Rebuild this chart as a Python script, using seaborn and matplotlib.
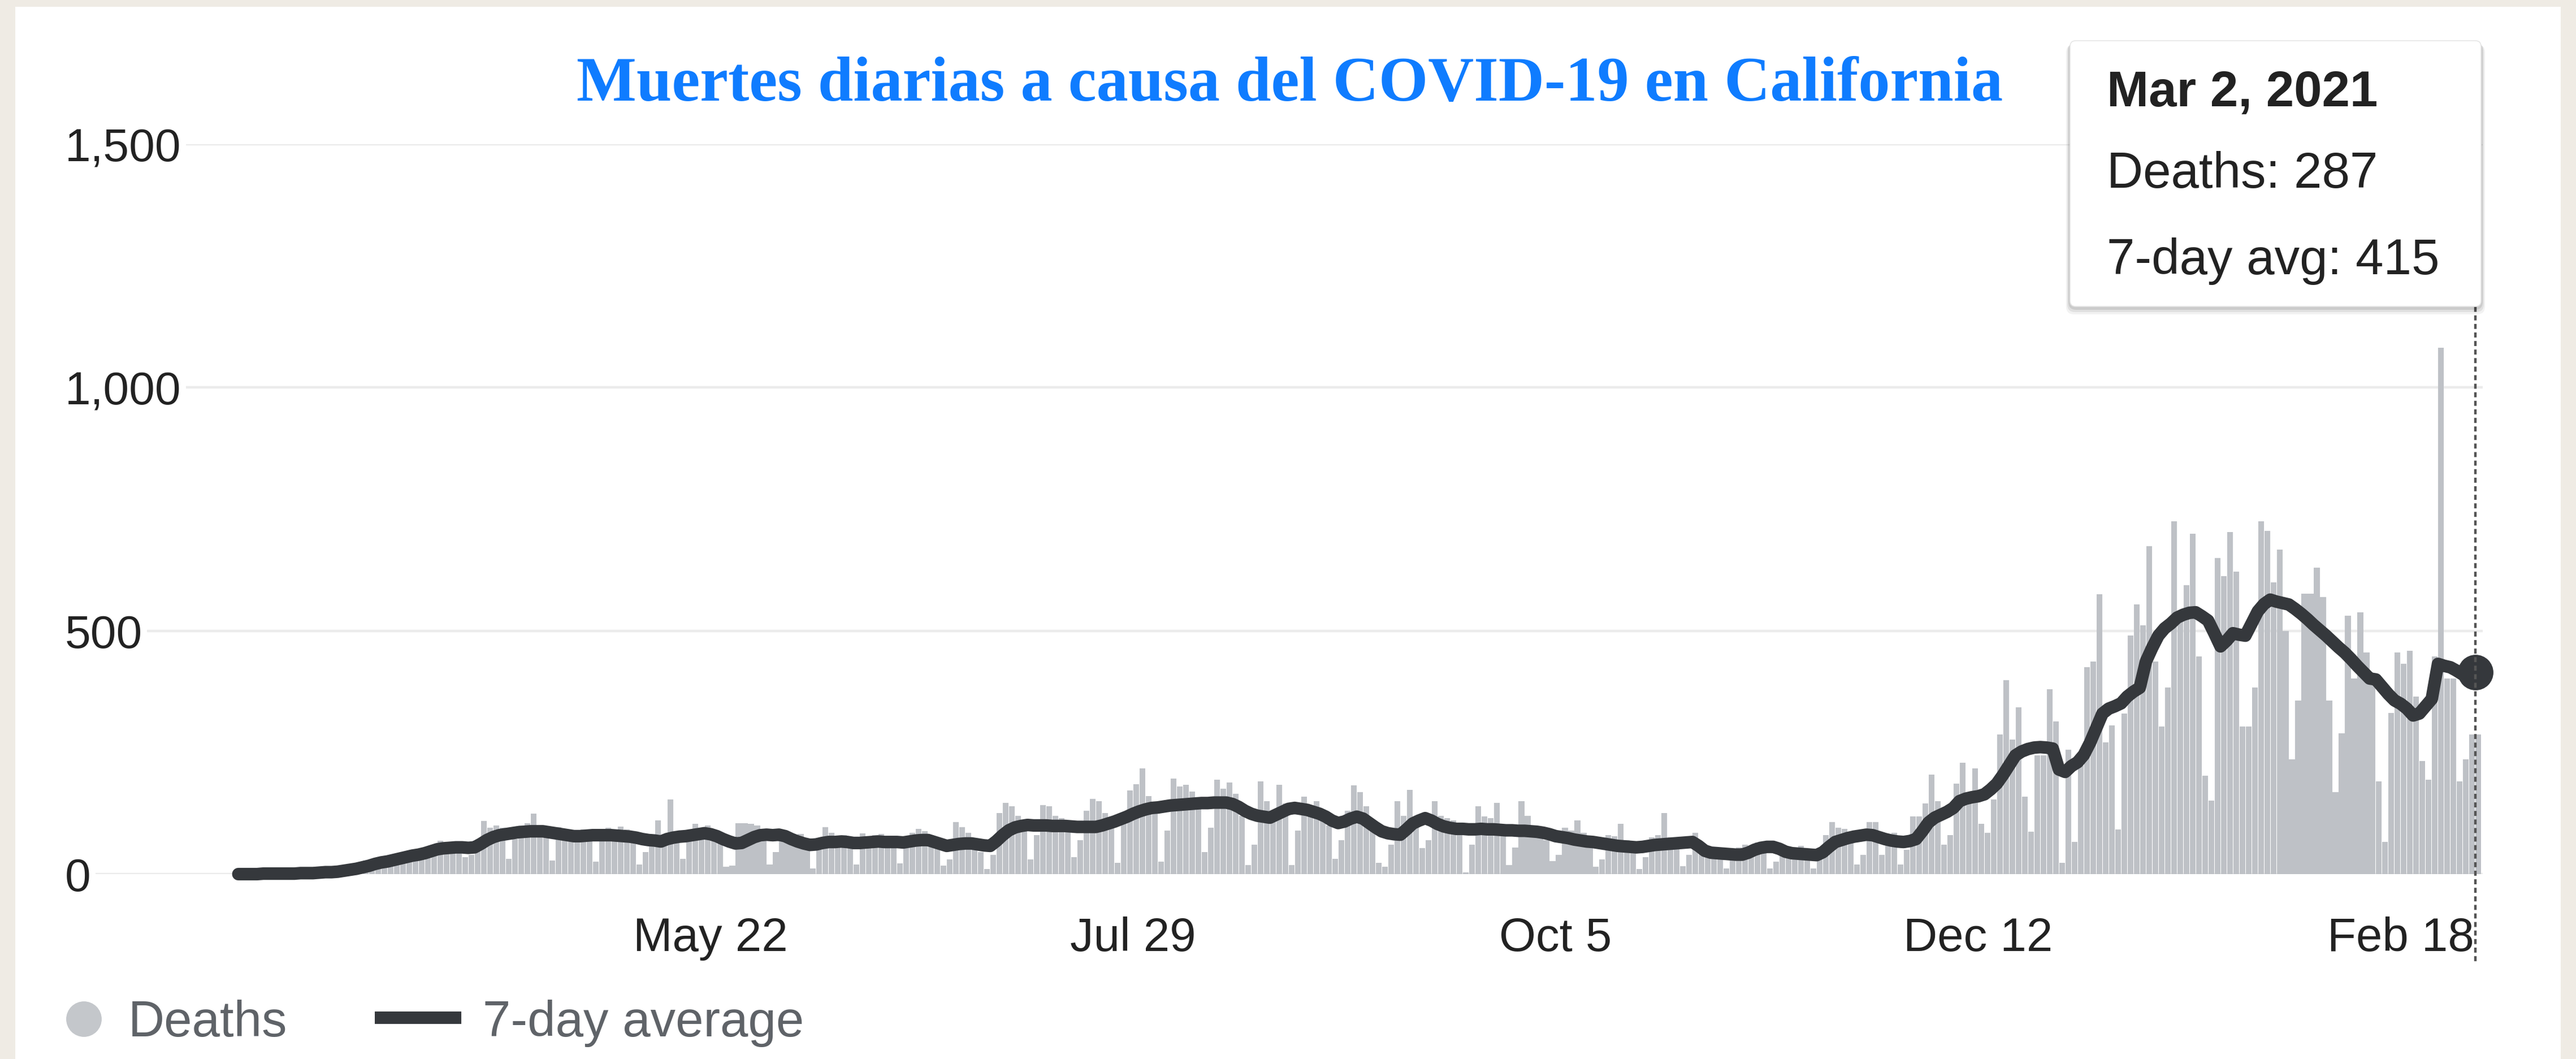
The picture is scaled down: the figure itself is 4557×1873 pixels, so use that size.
import numpy as np
import pandas as pd
import matplotlib
matplotlib.use('Agg')
import matplotlib.pyplot as plt
import seaborn as sns
from matplotlib.patches import FancyBboxPatch, Rectangle
from matplotlib.lines import Line2D

sns.set_style('white')
plt.rcParams['font.family'] = ['Liberation Sans', 'DejaVu Sans']

# Daily deaths, one list per month (first day: Mar 7, 2020)
deaths_2020_03 = [0, 0, 1, 0, 1, 1, 1, 2, 1, 2, 3, 4, 5, 6, 7, 5, 10, 15, 18, 24, 28, 30, 22, 32, 38]
deaths_2020_04 = [40, 42, 45, 48, 30, 45, 60, 68, 62, 58, 55, 35, 40, 65, 109, 95, 100, 95, 31, 72,
                  100, 105, 124, 98, 90, 28, 97, 85, 90, 88]
deaths_2020_05 = [92, 78, 25, 70, 95, 90, 98, 92, 80, 20, 45, 80, 110, 78, 153, 85, 31, 70, 103, 95,
                  100, 90, 75, 15, 18, 105, 105, 103, 100, 85, 20]
deaths_2020_06 = [45, 88, 80, 75, 82, 60, 12, 50, 97, 85, 78, 80, 65, 20, 84, 70, 80, 82, 75, 70,
                  22, 55, 85, 93, 88, 80, 65, 18, 30, 107]
deaths_2020_07 = [97, 85, 70, 45, 10, 40, 125, 146, 140, 120, 110, 30, 80, 142, 140, 120, 115, 105, 35, 70,
                  130, 155, 150, 125, 110, 23, 110, 172, 185, 217, 160]
deaths_2020_08 = [140, 25, 90, 196, 180, 184, 170, 140, 45, 95, 194, 175, 188, 165, 120, 19, 60, 190, 150, 130,
                  184, 145, 19, 90, 159, 140, 150, 130, 100, 31, 70]
deaths_2020_09 = [130, 182, 168, 140, 95, 23, 15, 60, 150, 120, 173, 110, 54, 70, 150, 120, 115, 110, 85, 3,
                  60, 140, 118, 115, 146, 90, 19, 55, 150, 120]
deaths_2020_10 = [100, 95, 70, 27, 40, 95, 90, 110, 85, 60, 15, 30, 80, 78, 103, 70, 55, 10, 35, 75,
                  80, 126, 75, 60, 16, 40, 85, 55, 35, 50, 45]
deaths_2020_11 = [12, 30, 55, 60, 58, 65, 50, 12, 25, 60, 50, 55, 58, 45, 12, 30, 80, 107, 95, 93,
                  75, 20, 40, 107, 107, 40, 80, 85, 20, 50]
deaths_2020_12 = [118, 118, 145, 205, 150, 60, 80, 186, 229, 160, 217, 103, 85, 153, 287, 398, 276, 343, 159, 87,
                  244, 244, 380, 314, 23, 256, 66, 223, 425, 437, 575]
deaths_2021_01 = [271, 305, 92, 330, 490, 554, 511, 674, 437, 303, 383, 725, 520, 594, 700, 447, 202, 151, 649, 612,
                  703, 622, 303, 303, 383, 725, 705, 599, 667, 500, 236]
deaths_2021_02 = [357, 576, 576, 630, 569, 357, 168, 289, 531, 402, 538, 455, 395, 190, 66, 331, 455, 432, 459, 365,
                  232, 194, 447, 1082, 402, 402, 190, 236]
deaths_2021_03 = [287, 287]

# 7-day average, same days
avg_2020_03 = [0, 0, 0, 0, 1, 1, 1, 1, 1, 1, 2, 2, 2, 3, 4, 4, 5, 7, 9, 11, 14, 17, 21, 24, 26]
avg_2020_04 = [29, 32, 35, 38, 40, 43, 47, 51, 53, 54, 55, 55, 54, 55, 62, 70, 76, 80, 82, 84,
               86, 87, 88, 88, 88, 86, 84, 82, 80, 78]
avg_2020_05 = [78, 79, 80, 80, 80, 80, 79, 78, 77, 75, 72, 70, 69, 67, 72, 75, 77, 78, 80, 82,
               84, 82, 78, 72, 67, 63, 64, 70, 76, 80, 81]
avg_2020_06 = [80, 81, 78, 72, 67, 63, 60, 61, 64, 66, 66, 67, 66, 64, 64, 65, 66, 67, 66, 66,
               66, 65, 67, 69, 70, 70, 66, 62, 58, 60]
avg_2020_07 = [62, 63, 63, 61, 59, 58, 68, 80, 90, 96, 99, 101, 100, 100, 100, 99, 99, 99, 98, 97,
               97, 97, 97, 100, 104, 108, 113, 118, 124, 129, 133]
avg_2020_08 = [136, 137, 139, 141, 142, 143, 144, 145, 146, 146, 147, 147, 147, 144, 138, 130, 124, 120, 118, 116,
               122, 128, 134, 136, 134, 132, 128, 124, 118, 110, 105]
avg_2020_09 = [108, 114, 118, 114, 105, 96, 88, 84, 82, 81, 92, 104, 110, 115, 110, 103, 98, 95, 93, 93,
               92, 92, 93, 92, 92, 91, 90, 90, 89, 89]
avg_2020_10 = [88, 87, 85, 82, 78, 76, 74, 71, 69, 67, 66, 64, 62, 60, 58, 57, 56, 55, 56, 58,
               60, 61, 62, 63, 64, 65, 66, 58, 48, 44, 43]
avg_2020_11 = [42, 41, 40, 40, 44, 50, 54, 56, 56, 52, 46, 43, 42, 41, 40, 39, 45, 56, 66, 70,
               74, 77, 79, 81, 80, 76, 72, 69, 67, 66]
avg_2020_12 = [68, 72, 88, 106, 116, 122, 128, 136, 150, 155, 158, 160, 164, 174, 186, 204, 224, 244, 252, 257,
               260, 261, 260, 258, 215, 210, 222, 230, 245, 270, 300]
avg_2021_01 = [330, 340, 345, 351, 365, 375, 383, 437, 465, 490, 505, 515, 527, 533, 537, 538, 530, 521, 495, 468,
               480, 495, 492, 490, 515, 540, 555, 564, 560, 557, 554]
avg_2021_02 = [545, 535, 524, 512, 501, 490, 478, 466, 455, 442, 428, 415, 402, 400, 385, 370, 357, 350, 340, 326,
               330, 345, 360, 432, 428, 425, 418, 410]
avg_2021_03 = [412, 415]

tick_dates = ['2020-05-22', '2020-07-29', '2020-10-05', '2020-12-12', '2021-02-18']
tick_labels = ['May 22', 'Jul 29', 'Oct 5', 'Dec 12', 'Feb 18']
y_ticks = [0, 500, 1000, 1500]
y_labels = ['0', '500', '1,000', '1,500']
title = 'Muertes diarias a causa del COVID-19 en California'

dates = pd.date_range('2020-03-07', '2021-03-02', freq='D')
deaths = np.concatenate([deaths_2020_03, deaths_2020_04, deaths_2020_05, deaths_2020_06,
                         deaths_2020_07, deaths_2020_08, deaths_2020_09, deaths_2020_10,
                         deaths_2020_11, deaths_2020_12, deaths_2021_01, deaths_2021_02, deaths_2021_03])
avg = np.concatenate([avg_2020_03, avg_2020_04, avg_2020_05, avg_2020_06,
                      avg_2020_07, avg_2020_08, avg_2020_09, avg_2020_10,
                      avg_2020_11, avg_2020_12, avg_2021_01, avg_2021_02, avg_2021_03])
assert len(deaths) == len(dates) == len(avg)

df = pd.DataFrame({'day': (dates - dates[0]).days, 'deaths': deaths, 'avg': avg})
df['bar_x'] = df['day'] + 0.5

# colours
BEIGE = '#efebe4'
BAR = '#bec1c6'
LINE = '#35383c'
TEXT = '#222222'
LEGEND_TEXT = '#5f6368'

W, H = 4557, 1874
fig = plt.figure(figsize=(W / 200, H / 200), dpi=200, facecolor=BEIGE)
fig.patches.append(Rectangle((27 / W, 0), (4530 - 27) / W, 1 - 13 / H, transform=fig.transFigure,
                             facecolor='white', edgecolor='none', zorder=-5))

ax = fig.add_axes([115 / W, 1 - 1547 / H, (4392 - 115) / W, (1547 - 256) / H])
ax.set_facecolor('none')

sns.barplot(data=df, x='bar_x', y='deaths', native_scale=True, width=0.92, color=BAR,
            saturation=1, errorbar=None, edgecolor='none', linewidth=0, ax=ax)
sns.lineplot(data=df, x='day', y='avg', color=LINE, linewidth=8, ax=ax, clip_on=False,
             solid_capstyle='round', solid_joinstyle='round')
last = df.iloc[-1]
ax.plot([last['day']], [last['avg']], 'o', ms=21.6, color=LINE, clip_on=False, zorder=5)

ax.set_xlim(-27.9, 361.2)
ax.set_ylim(0, 1500)
tick_pos = (pd.to_datetime(tick_dates) - dates[0]).days
ax.set_xticks(tick_pos, tick_labels)
ax.tick_params(axis='x', length=21.6, width=0.8, color='#dadce0', pad=5, labelsize=30, labelcolor=TEXT)
ax.set_yticks(y_ticks, y_labels)
ax.tick_params(axis='y', length=0, pad=0, labelsize=29.5, labelcolor=TEXT)
for lab in ax.get_yticklabels():
    lab.set_horizontalalignment('left')
    lab.set_bbox(dict(facecolor='white', edgecolor='none', pad=3))
ax.yaxis.grid(True, color='#ebebeb', linewidth=1.6)
ax.xaxis.grid(False)
ax.set_axisbelow(True)
sns.despine(ax=ax, left=True, bottom=True, top=True, right=True)
ax.set_xlabel('')
ax.set_ylabel('')

# hover guide line
ax.axvline(last['day'], ymin=-0.119, ymax=0.9, color='#555555', lw=1.6,
           linestyle=(0, (2, 1.4)), clip_on=False, zorder=6)

# title
fig.text(0.5006, 1 - 178 / H, title, ha='center', va='baseline', fontsize=40.4,
         family='Liberation Serif', fontweight='bold', color='#0f7cff')

# tooltip
tip = fig.add_axes([3630 / W, 1 - 590 / H, (4440 - 3630) / W, (590 - 45) / H])
tip.set_xlim(3630, 4440)
tip.set_ylim(590, 45)
tip.axis('off')
for off, a in [(14, 0.05), (10, 0.07), (6, 0.09)]:
    tip.add_patch(FancyBboxPatch((3662 - off / 2, 73 + off / 2), 727 + off, 470 + off / 2,
                                 boxstyle='round,pad=0,rounding_size=14',
                                 facecolor='black', edgecolor='none', alpha=a))
tip.add_patch(FancyBboxPatch((3662, 73), 727, 470, boxstyle='round,pad=0,rounding_size=10',
                             facecolor='white', edgecolor='#e6e6e6', linewidth=0.6))
d = dates[-1]
tip.text(3727, 188, f'{d:%b} {d.day}, {d.year}', fontsize=32, fontweight='bold', color=TEXT, va='baseline')
tip.text(3727, 332, f"Deaths: {int(last['deaths'])}", fontsize=32, color=TEXT, va='baseline')
tip.text(3727, 485, f"7-day avg: {int(last['avg'])}", fontsize=32, color=TEXT, va='baseline')

# legend
fig.add_artist(Line2D([148 / W], [1 - 1803 / H], marker='o', ms=21.6, color='#c4c7cb',
                      linestyle='none', transform=fig.transFigure))
fig.text(227 / W, 1 - 1833 / H, 'Deaths', fontsize=32, color=LEGEND_TEXT, va='baseline')
fig.add_artist(Line2D([663 / W, 816 / W], [1 - 1801 / H] * 2, lw=7.9, color=LINE,
                      solid_capstyle='butt', transform=fig.transFigure))
fig.text(854 / W, 1 - 1833 / H, '7-day average', fontsize=32, color=LEGEND_TEXT, va='baseline')

fig.savefig('out.png', dpi=200, facecolor=fig.get_facecolor())
